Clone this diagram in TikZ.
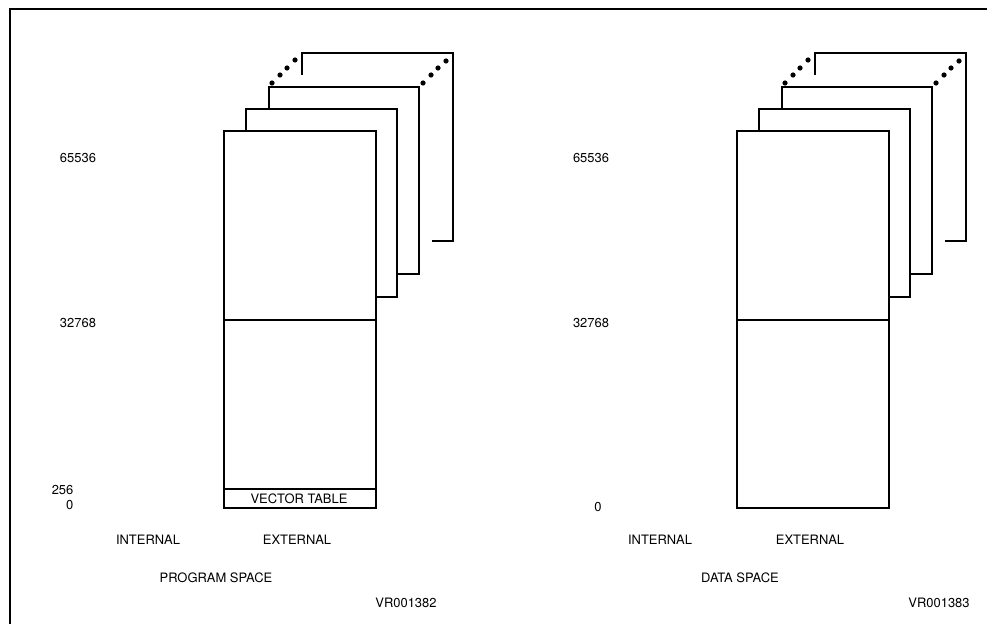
\documentclass[tikz,border=0pt]{standalone}
\usepackage{fontspec}
\setmainfont{TeX Gyre Heros}
\begin{document}
\begin{tikzpicture}[x=1bp,y=-1bp,line width=1.2bp,
  lbl/.style={font=\fontsize{13}{15}\selectfont, inner sep=0pt}]
\useasboundingbox (0,0) rectangle (987,624);
\draw (10,624) -- (10,9) -- (987,9);
% stacks
\foreach \dx in {0,513}{
\begin{scope}[xshift=\dx bp]
  \draw (302,75) -- (302,53) -- (453,53) -- (453,241) -- (432,241);
  \draw (269,109) -- (269,87) -- (419,87) -- (419,274) -- (397,274);
  \draw (246,131) -- (246,109) -- (397,109) -- (397,297) -- (376,297);
  \draw[fill=white] (224,131) rectangle (376,508);
  \draw (224,320) -- (376,320);
  \foreach \x/\y in {272/83,280/75,287/68,295/60,423/83,431/75,438/68,446/61}
    \fill (\x,\y) circle (2.6bp);
\end{scope}}
\draw (224,489) -- (376,489);
\node[lbl] (vt) at (299,498.5) {VECTOR TABLE};
% left labels
\node[lbl] (p65) at (78,158) {65536};
\node[lbl] (p32) at (78,323) {32768};
\node[lbl, anchor=east] (p256) at (74,490) {256};
\node[lbl, anchor=east] (p0) at (74,505) {0};
\node[lbl] (pint) at (148,540) {INTERNAL};
\node[lbl] (pext) at (297,540) {EXTERNAL};
\node[lbl] (pspace) at (216,578) {PROGRAM SPACE};
\node[lbl] (pvr) at (406,603) {VR001382};
% right labels
\node[lbl] (d65) at (591,158) {65536};
\node[lbl] (d32) at (591,323) {32768};
\node[lbl] (d0) at (598,507) {0};
\node[lbl] (dint) at (660,540) {INTERNAL};
\node[lbl] (dext) at (810,540) {EXTERNAL};
\node[lbl] (dspace) at (740,578) {DATA SPACE};
\node[lbl] (dvr) at (939,603) {VR001383};
\end{tikzpicture}
\end{document}
